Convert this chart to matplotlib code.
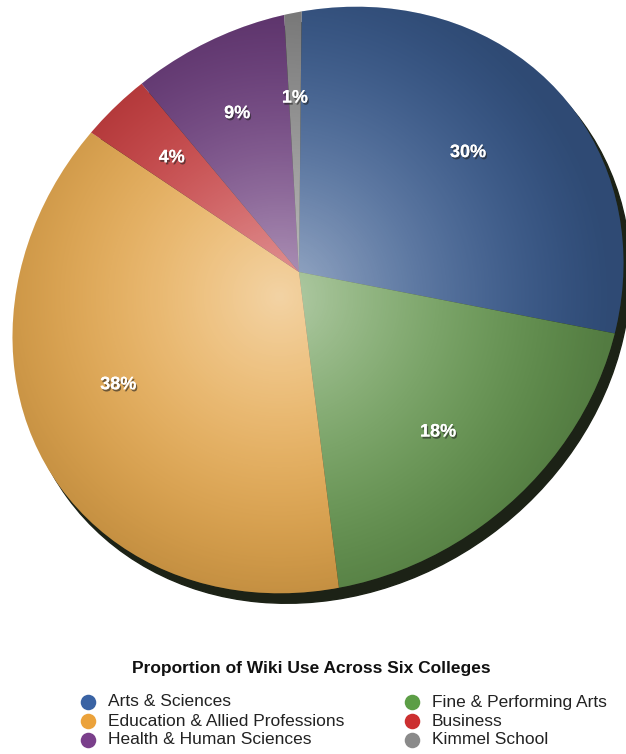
import numpy as np
import matplotlib.pyplot as plt
from matplotlib.patches import Ellipse
from matplotlib.transforms import Affine2D
import matplotlib.patheffects as pe

# data
colleges = ["Arts & Sciences", "Fine & Performing Arts", "Education & Allied Professions",
            "Business", "Health & Human Sciences", "Kimmel School"]
shares = [30, 18, 38, 4, 9, 1]
slice_colors = ["#3b5d91", "#689a52", "#e8a94c", "#c6383a", "#6a3a7b", "#8a8a8a"]
legend_colors = ["#3a63a4", "#5c9e46", "#eba23b", "#cc2f30", "#7a3f8b", "#8a8a8a"]
legend_order = [0, 2, 4, 1, 3, 5]
title = "Proportion of Wiki Use Across Six Colleges"

# label placement: distance from the apex (px) and a small turn (deg)
label_dist = [207, 212, 213, 171, 170, 174]
label_turn = [-3, -3, 0, 0, 0, 0]

W, H = 626, 754
fig = plt.figure(figsize=(W / 100, H / 100), dpi=100)
ax = fig.add_axes([0, 0, 1, 1])

# tilted pie: the disc leans back towards the upper left
apex = (299, H - 272)
tilt_dir, squash, disc_r = 123, 0.87, 316
face_c = (318, H - 300)
face_w, face_h, face_ang = 2 * 318.6, 2 * 279, 36

plane = (Affine2D().rotate_deg(-tilt_dir).scale(squash, 1).rotate_deg(tilt_dir)
         .scale(disc_r).translate(*apex))


def face(dx=0, dy=0, **kw):
    return Ellipse((face_c[0] + dx, face_c[1] + dy), face_w, face_h, angle=face_ang, **kw)


# dark side rim
ax.add_patch(face(7, -10, color="#1c2216", zorder=1))

start = 93
wedges, _ = ax.pie(shares, colors=slice_colors, startangle=start, counterclock=False,
                   radius=1.7, frame=True, wedgeprops=dict(linewidth=0))
ax.set_aspect("auto")
ax.axis("off")

for w in wedges:
    w.set_transform(plane + ax.transData)
    w.set_clip_on(True)
    w.set_clip_path(face(transform=ax.transData))
    w.set_zorder(2)

# shading: light near the apex, darker towards the rim
xx, yy = np.meshgrid(np.arange(W), np.arange(H))
r = np.hypot(xx - apex[0] + 20, yy - apex[1] + 25) / 330.0
r = np.clip(r, 0, 1)
shade = np.zeros((H, W, 4))
light = 0.5 * (1 - r) ** 1.8
dark = 0.2 * r ** 2.5
shade[..., :3] = (light / (light + dark + 1e-9))[..., None]
shade[..., 3] = np.clip(light + dark, 0, 1)
im = ax.imshow(shade, extent=(0, W, 0, H), origin="lower", zorder=3,
               interpolation="bilinear", aspect="auto")
im.set_clip_path(face(transform=ax.transData))
ax.set_xlim(0, W)
ax.set_ylim(0, H)

# percent labels, placed along each slice's middle ray
cum = np.cumsum([0] + shares[:-1])
for i, s in enumerate(shares):
    ang = np.deg2rad(start - 360 * (cum[i] + s / 2) / 100)
    px, py = plane.transform([np.cos(ang), np.sin(ang)]) - np.array(apex)
    a = np.arctan2(py, px) + np.deg2rad(label_turn[i])
    x = apex[0] + label_dist[i] * np.cos(a)
    y = apex[1] + label_dist[i] * np.sin(a)
    ax.text(x, y, f"{s}%", ha="center", va="center", color="white",
            fontsize=13, fontweight="bold", family="Liberation Sans", zorder=5,
            path_effects=[pe.withSimplePatchShadow(offset=(1, -1.5), shadow_rgbFace="#222222", alpha=0.6),
                          pe.Normal()])

# title and legend
ax.text(311, H - 668, title, ha="center", va="center", fontsize=12.5,
        fontweight="bold", family="Liberation Sans", color="#111111")
for k, idx in enumerate(legend_order):
    col, row = k // 3, k % 3
    x0 = 88 + col * 324
    y0 = H - (702 + row * 19)
    ax.scatter([x0], [y0], s=125, color=legend_colors[idx], linewidths=0, zorder=5)
    ax.text(x0 + 20, y0, colleges[idx], ha="left", va="center", fontsize=12.5,
            family="Liberation Sans", color="#222222")

fig.savefig("out.png", dpi=100)
